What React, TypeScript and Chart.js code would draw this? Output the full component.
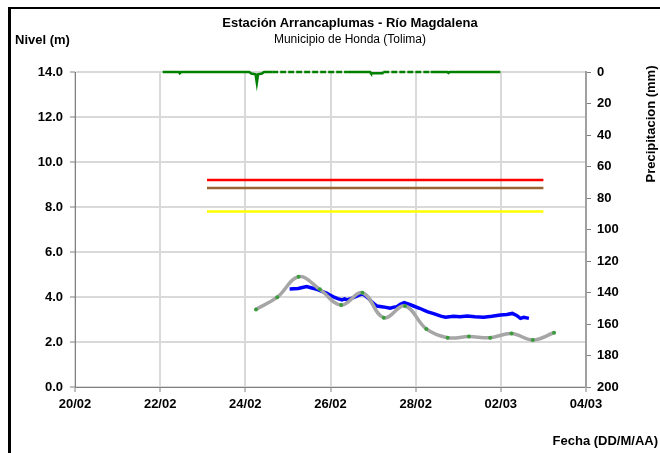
import React, { useEffect, useRef } from "react";
import { Chart, registerables } from "chart.js";

Chart.register(...registerables);

// X axis: days since 20/02
const xTickLabels = ["20/02", "22/02", "24/02", "26/02", "28/02", "02/03", "04/03"];

// Observed level (m)
const levelDays = [5.04, 5.14, 5.24, 5.34, 5.44, 5.54, 5.68, 5.8, 5.92, 5.99, 6.07, 6.17, 6.27, 6.33, 6.39, 6.49, 6.62, 6.69, 6.75, 6.82, 6.89, 6.99, 7.09, 7.24, 7.4, 7.49, 7.56, 7.64, 7.73, 7.84, 7.95, 8.09, 8.27, 8.44, 8.59, 8.7, 8.89, 9.04, 9.21, 9.39, 9.6, 9.79, 9.99, 10.14, 10.27, 10.37, 10.46, 10.54, 10.66];
const levelValues = [4.36, 4.37, 4.38, 4.42, 4.46, 4.41, 4.34, 4.25, 4.16, 4.08, 4.01, 3.93, 3.87, 3.92, 3.87, 3.94, 4.04, 4.1, 4.13, 4.05, 3.94, 3.75, 3.6, 3.56, 3.5, 3.55, 3.57, 3.68, 3.75, 3.68, 3.6, 3.5, 3.35, 3.25, 3.15, 3.1, 3.14, 3.12, 3.16, 3.12, 3.1, 3.14, 3.2, 3.22, 3.27, 3.18, 3.05, 3.1, 3.05];

// Modelled / forecast level (m)
const forecastDays = [4.25, 4.75, 5.25, 5.75, 6.25, 6.75, 7.25, 7.75, 8.25, 8.75, 9.25, 9.75, 10.25, 10.75, 11.25];
const forecastValues = [3.45, 3.99, 4.9, 4.34, 3.64, 4.19, 3.08, 3.6, 2.58, 2.19, 2.24, 2.19, 2.38, 2.09, 2.41];

// Precipitation (mm)
const rainDays = [2.06, 2.44, 2.46, 2.49, 4.09, 4.14, 4.24, 4.27, 4.3, 4.39, 4.44, 4.63, 6.39, 6.93, 6.95, 7.22, 7.24, 8.35, 8.74, 8.77, 8.8, 9.99];
const rainValues = [0, 0, 0.8, 0, 0, 1, 1.5, 7, 1.5, 1, 0, 0, 0, 0, 0.8, 0.8, 0, 0, 0, 0.6, 0, 0];

// Alert thresholds (m)
const thresholdDays = [3.1, 11.0];
const redLevel = 9.2;
const brownLevel = 8.85;
const yellowLevel = 7.8;

const FONT = "'Liberation Sans', Arial, sans-serif";

export default function App() {
  const ref = useRef<HTMLCanvasElement | null>(null);

  useEffect(() => {
    document.body.style.margin = "0";
    const canvas = ref.current;
    if (!canvas) return;
    Chart.defaults.font.family = FONT;

    const pts = (xs: number[], ys: number[]) => xs.map((x, i) => ({ x, y: ys[i] }));
    const flat = (v: number) => thresholdDays.map((x) => ({ x, y: v }));

    const chart = new Chart(canvas, {
      type: "line",
      data: {
        datasets: [
          {
            data: pts(forecastDays, forecastValues),
            yAxisID: "y",
            borderColor: "#a6a6a6",
            borderWidth: 3.5,
            tension: 0.4,
            pointRadius: 2,
            pointBackgroundColor: "#3c9c3c",
            pointBorderWidth: 0,
            order: 1,
          },
          {
            data: pts(levelDays, levelValues),
            yAxisID: "y",
            borderColor: "#0000ff",
            borderWidth: 3.5,
            tension: 0,
            pointRadius: 0,
            order: 2,
          },
          {
            data: flat(redLevel),
            yAxisID: "y",
            borderColor: "#ff0000",
            borderWidth: 2.5,
            pointRadius: 0,
            order: 3,
          },
          {
            data: flat(brownLevel),
            yAxisID: "y",
            borderColor: "#996633",
            borderWidth: 2.5,
            pointRadius: 0,
            order: 3,
          },
          {
            data: flat(yellowLevel),
            yAxisID: "y",
            borderColor: "#ffff00",
            borderWidth: 2.5,
            pointRadius: 0,
            order: 3,
          },
          {
            data: pts(rainDays, rainValues),
            yAxisID: "y1",
            borderColor: "#008000",
            borderWidth: 2.5,
            pointRadius: 0,
            tension: 0,
            clip: false as any,
            order: 0,
            segment: {
              borderDash: (ctx: any) => {
                const a = ctx.p0.parsed.x;
                const b = ctx.p1.parsed.x;
                if ((a >= 4.63 && b <= 6.39) || (a >= 7.24 && b <= 8.35)) return [6, 2];
                return undefined;
              },
            },
          },
        ],
      },
      options: {
        responsive: false,
        animation: false,
        maintainAspectRatio: false,
        layout: { padding: { top: 72, left: 0, right: 0, bottom: 36 } },
        plugins: {
          legend: { display: false },
          tooltip: { enabled: false },
          title: { display: false },
        },
        scales: {
          x: {
            type: "linear",
            min: 0,
            max: 12,
            afterFit: (s: any) => {
              s.height = 30;
            },
            ticks: {
              stepSize: 2,
              autoSkip: false,
              maxRotation: 0,
              padding: 5,
              color: "#000",
              font: { size: 13, weight: "bold" },
              callback: (v: any) => xTickLabels[Math.round(Number(v) / 2)] ?? "",
            },
            grid: { color: "#d9d9d9", lineWidth: 2, tickLength: 5, tickColor: "#808080", tickWidth: 1 },
            border: { color: "#808080", width: 1 },
          },
          y: {
            position: "left",
            min: 0,
            max: 14,
            afterFit: (s: any) => {
              s.width = 75;
            },
            ticks: {
              stepSize: 2,
              padding: 7,
              color: "#000",
              font: { size: 13, weight: "bold" },
              callback: (v: any) => Number(v).toFixed(1),
            },
            grid: { color: "#d9d9d9", lineWidth: 2, tickLength: 5, tickColor: "#808080", tickWidth: 1 },
            border: { color: "#808080", width: 1 },
          },
          y1: {
            position: "right",
            min: 0,
            max: 200,
            reverse: true,
            afterFit: (s: any) => {
              s.width = 74;
            },
            ticks: {
              stepSize: 20,
              padding: 6,
              color: "#000",
              font: { size: 13, weight: "bold" },
            },
            grid: { drawOnChartArea: false, tickLength: 5, tickColor: "#808080", tickWidth: 1 },
            border: { color: "#a0a0a0", width: 2 },
          },
        },
      },
    });
    return () => chart.destroy();
  }, []);

  const txt: React.CSSProperties = {
    position: "absolute",
    fontFamily: FONT,
    color: "#000",
    whiteSpace: "nowrap",
    lineHeight: "1",
  };

  return (
    <div style={{ position: "relative", width: 660, height: 453, overflow: "hidden", background: "#fff" }}>
      <canvas ref={ref} width={660} height={453} style={{ position: "absolute", left: 0, top: 0, width: 660, height: 453 }} />
      <div
        style={{
          position: "absolute",
          left: 8,
          top: 7,
          width: 700,
          height: 500,
          borderLeft: "3px solid #000",
          borderTop: "2px solid #000",
          pointerEvents: "none",
        }}
      />
      <div style={{ ...txt, left: 0, width: 700, top: 16, textAlign: "center", fontSize: 13, fontWeight: "bold" }}>
        Estación Arrancaplumas - Río Magdalena
      </div>
      <div style={{ ...txt, left: 0, width: 700, top: 33, textAlign: "center", fontSize: 12 }}>
        Municipio de Honda (Tolima)
      </div>
      <div style={{ ...txt, left: 15, top: 33, fontSize: 13, fontWeight: "bold" }}>Nivel (m)</div>
      <div
        style={{
          ...txt,
          left: 650,
          top: 124,
          fontSize: 13,
          fontWeight: "bold",
          transform: "translate(-50%, -50%) rotate(-90deg)",
        }}
      >
        Precipitacion (mm)
      </div>
      <div style={{ ...txt, right: 2, top: 434, fontSize: 13, fontWeight: "bold" }}>Fecha (DD/M/AA)</div>
    </div>
  );
}
